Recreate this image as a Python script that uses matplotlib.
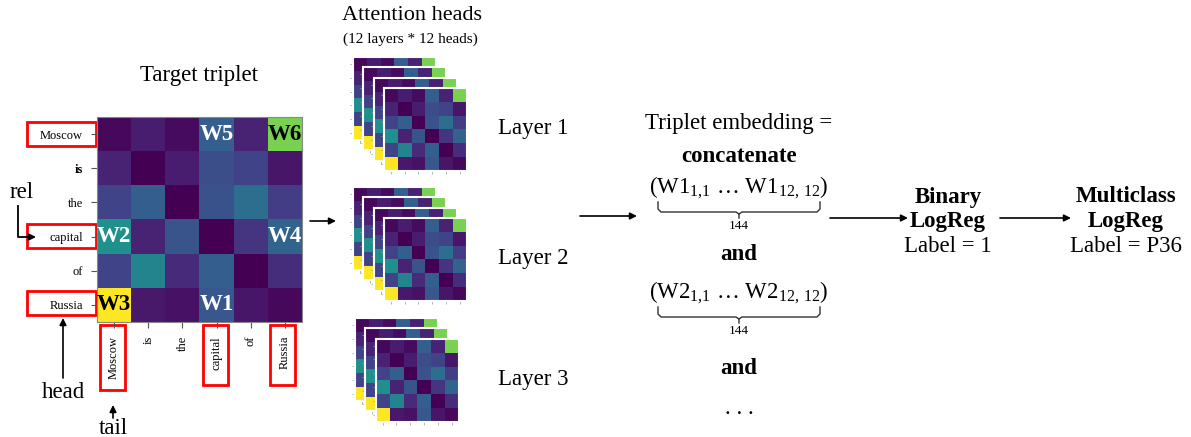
import matplotlib.pyplot as plt
import numpy as np

W, H = 1191, 437

tokens = ["Moscow", "is", "the", "capital", "of", "Russia"]

# attention weights (rows = query token, cols = key token)
attn = [
	[0.02, 0.08, 0.03, 0.30, 0.10, 0.80],
	[0.10, 0.00, 0.08, 0.24, 0.20, 0.06],
	[0.20, 0.30, 0.00, 0.25, 0.36, 0.18],
	[0.50, 0.10, 0.26, 0.00, 0.15, 0.32],
	[0.20, 0.45, 0.12, 0.30, 0.00, 0.13],
	[1.00, 0.07, 0.05, 0.27, 0.06, 0.02],
]

w_labels = [
	(0, 3, "W5", "white"),
	(0, 5, "W6", "black"),
	(3, 0, "W2", "white"),
	(3, 5, "W4", "white"),
	(5, 0, "W3", "black"),
	(5, 3, "W1", "white"),
]

layer_names = ["Layer 1", "Layer 2", "Layer 3"]
heads_per_stack = [4, 4, 3]

plt.rcParams["font.family"] = ["Liberation Serif", "DejaVu Serif"]
plt.rcParams["mathtext.fontset"] = "custom"
plt.rcParams["mathtext.rm"] = "Liberation Serif"

fig = plt.figure(figsize=(W / 100, H / 100), dpi=100)

# overlay axes in pixel coordinates
ax = fig.add_axes([0, 0, 1, 1])
ax.set_xlim(0, W)
ax.set_ylim(H, 0)
ax.axis("off")


def px_axes(x0, y0, w, h):
	return fig.add_axes([x0 / W, 1 - (y0 + h) / H, w / W, h / H])


def arrow(x0, y0, x1, y1):
	ax.annotate("", xy=(x1, y1), xytext=(x0, y0),
				arrowprops=dict(arrowstyle="-|>", color="black", lw=1.2,
								mutation_scale=10, shrinkA=0, shrinkB=0))


mat = np.array(attn)

# main heatmap
hm = px_axes(97, 117, 205, 205)
hm.imshow(mat, cmap="viridis", vmin=0, vmax=1, aspect="auto")
hm.set_xticks(range(len(tokens)))
hm.set_yticks(range(len(tokens)))
hm.set_xticklabels(tokens, rotation=90, fontsize=9, va="top")
hm.set_yticklabels(tokens, fontsize=9)
for lab in hm.get_yticklabels():
	if lab.get_text() == "is":
		lab.set_fontweight("bold")
hm.tick_params(length=4, width=0.8, colors="#555555", labelcolor="black", pad=6)
for s in hm.spines.values():
	s.set_color("#888888")
for r, c, t, col in w_labels:
	hm.text(c, r, t, ha="center", va="center", fontsize=16.5,
			fontweight="bold", color=col)

# red boxes round the triplet tokens
for y0 in [122, 224, 291]:
	ax.add_patch(plt.Rectangle((27, y0), 69, 24, fill=False, ec="red", lw=2))
for x0, h in [(100, 65), (203, 60), (270, 60)]:
	ax.add_patch(plt.Rectangle((x0, 325), 25, h, fill=False, ec="red", lw=2))

ax.text(199, 76, "Target triplet", ha="center", va="center", fontsize=16.5)
ax.text(22, 193, "rel", ha="center", va="center", fontsize=16.5)
ax.plot([18, 18, 30], [206, 237, 237], color="black", lw=1.3)
arrow(28, 237, 36, 237)
ax.text(63, 392, "head", ha="center", va="center", fontsize=16.5)
arrow(63, 378, 63, 318)
ax.text(113, 428, "tail", ha="center", va="center", fontsize=16.5)
arrow(113, 418, 113, 405)

arrow(310, 221, 336, 221)

# attention heads stacks
ax.text(412, 15, "Attention heads", ha="center", va="center", fontsize=16)
ax.text(410, 39, "(12 layers * 12 heads)", ha="center", va="center", fontsize=11)

stack_origins = [(353, 57), (353, 187), (355, 318)]
for (sx, sy), n, name in zip(stack_origins, heads_per_stack, layer_names):
	for k in range(n):
		a = px_axes(sx + k * 10.3, sy + k * 10.3, 83, 83)
		a.imshow(mat, cmap="viridis", vmin=0, vmax=1, aspect="auto")
		a.set_xticks(range(len(tokens)))
		a.set_yticks(range(len(tokens)))
		a.set_xticklabels([])
		a.set_yticklabels([])
		a.tick_params(length=2, width=0.5, colors="#999999")
		for s in a.spines.values():
			s.set_color("white")
			s.set_linewidth(1.5)
	fy = sy + (n - 1) * 10.3 + 41
	ax.text(533, fy, name, ha="center", va="center", fontsize=16.5)

arrow(580, 216, 637, 216)

# triplet embedding block
cx = 739
ax.text(cx, 123, "Triplet embedding =", ha="center", va="center", fontsize=16.5)
ax.text(cx, 157, "concatenate", ha="center", va="center", fontsize=16.5, fontweight="bold")
ax.text(cx, 188, r"(W1$_{1{,}1}$ … W1$_{12{,}\ 12}$)", ha="center", va="center", fontsize=16.5)
ax.text(cx, 255, "and", ha="center", va="center", fontsize=16.5, fontweight="bold")
ax.text(cx, 293, r"(W2$_{1{,}1}$ … W2$_{12{,}\ 12}$)", ha="center", va="center", fontsize=16.5)
ax.text(cx, 368, "and", ha="center", va="center", fontsize=16.5, fontweight="bold")
ax.text(cx, 414, ". . .", ha="center", va="baseline", fontsize=16.5)

for top in [202, 307]:
	xl, xr = 658, 820
	ax.plot([xl, xl, xl + 3, cx - 3, cx, cx], [top, top + 7, top + 10, top + 10, top + 12, top + 16],
			color="#333333", lw=1)
	ax.plot([xr, xr, xr - 3, cx + 3, cx], [top, top + 7, top + 10, top + 10, top + 12],
			color="#333333", lw=1)
	ax.text(cx, top + 24, "144", ha="center", va="center", fontsize=9.5)

arrow(830, 218, 908, 218)
ax.text(948, 197, "Binary", ha="center", va="center", fontsize=16.5, fontweight="bold")
ax.text(948, 221, "LogReg", ha="center", va="center", fontsize=16.5, fontweight="bold")
ax.text(948, 246, "Label = 1", ha="center", va="center", fontsize=16.5)

arrow(1000, 218, 1071, 218)
ax.text(1126, 197, "Multiclass", ha="center", va="center", fontsize=16.5, fontweight="bold")
ax.text(1126, 221, "LogReg", ha="center", va="center", fontsize=16.5, fontweight="bold")
ax.text(1126, 246, "Label = P36", ha="center", va="center", fontsize=16.5)

fig.savefig("out.png", dpi=100)
